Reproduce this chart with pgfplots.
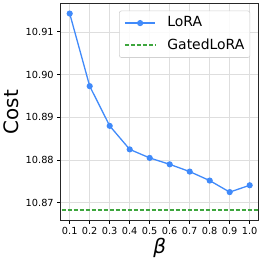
\documentclass[border=0pt]{standalone}
\usepackage{pgfplots}
\pgfplotsset{compat=1.18}
\usepackage{fontspec}
\setmainfont{DejaVu Sans}
\definecolor{lorablue}{RGB}{64,138,250}
\definecolor{gatedgreen}{RGB}{62,166,62}
\definecolor{gridgray}{RGB}{222,222,222}
\begin{document}
\begin{tikzpicture}
\useasboundingbox (-60.7bp,-41.7bp) rectangle (201.3bp,220.3bp);
\begin{axis}[
  at={(0,0)}, anchor=south west,
  scale only axis,
  width=198bp, height=216.6bp,
  xmin=0.055, xmax=1.045,
  ymin=10.8659, ymax=10.9166,
  xtick={0.1,0.2,0.3,0.4,0.5,0.6,0.7,0.8,0.9,1.0},
  xticklabels={0.1,0.2,0.3,0.4,0.5,0.6,0.7,0.8,0.9,1.0},
  ytick={10.87,10.88,10.89,10.90,10.91},
  yticklabels={10.87,10.88,10.89,10.90,10.91},
  /pgf/number format/assume math mode=true,
  tick label style={font=\fontsize{9.8}{11}\selectfont},
  tick align=outside,
  major tick length=3.5bp,
  tick style={black, line width=0.8bp},
  xtick pos=bottom, ytick pos=left,
  grid=major,
  major grid style={gridgray, line width=0.6bp},
  axis line style={black!85, line width=0.9bp},
  xlabel={\textit{β}},
  ylabel={Cost},
  xlabel style={font=\fontsize{20}{24}\selectfont, at={(axis description cs:0.5,-0.1265)}, anchor=center},
  ylabel style={font=\fontsize{20}{24}\selectfont, at={(axis description cs:-0.251,0.5)}, anchor=center},
  legend style={
    at={(axis description cs:0.957,0.968)}, anchor=north east,
    font=\fontsize{14}{16}\selectfont,
    draw=black!18, fill=white, fill opacity=0.85, text opacity=1,
    rounded corners=2bp, line width=0.6bp,
    row sep=6.8bp, inner xsep=4.5bp, inner ysep=4.4bp,
    nodes={inner sep=1bp, text height=10.5bp, text depth=3bp},
    /tikz/every odd column/.append style={column sep=10bp},
  },
  legend cell align=left,
]
\addplot[color=lorablue, line width=1.3bp, mark=*, mark size=2.4bp, mark options={fill=lorablue, draw=lorablue},
  legend image code/.code={
    \draw[lorablue, line width=1.3bp] (0bp,0bp) -- (30.5bp,0bp);
    \fill[lorablue] (15.25bp,0bp) circle (2.4bp);
  }] coordinates {
(0.1,10.9143) (0.2,10.8973) (0.3,10.8880) (0.4,10.8825) (0.5,10.8805)
(0.6,10.8790) (0.7,10.8773) (0.8,10.8752) (0.9,10.8725) (1.0,10.8741)
};
\addlegendentry{LoRA}
\addplot[color=gatedgreen, line width=2bp, dashed, dash pattern=on 4bp off 2bp,
  legend image code/.code={
    \draw[draw=gatedgreen, line width=2bp, dash pattern=on 4bp off 2bp] (0bp,0bp) -- (30.5bp,0bp);
  }] coordinates {(0.0,10.8682) (1.1,10.8682)};
\addlegendentry{GatedLoRA}
\end{axis}
\end{tikzpicture}
\end{document}
